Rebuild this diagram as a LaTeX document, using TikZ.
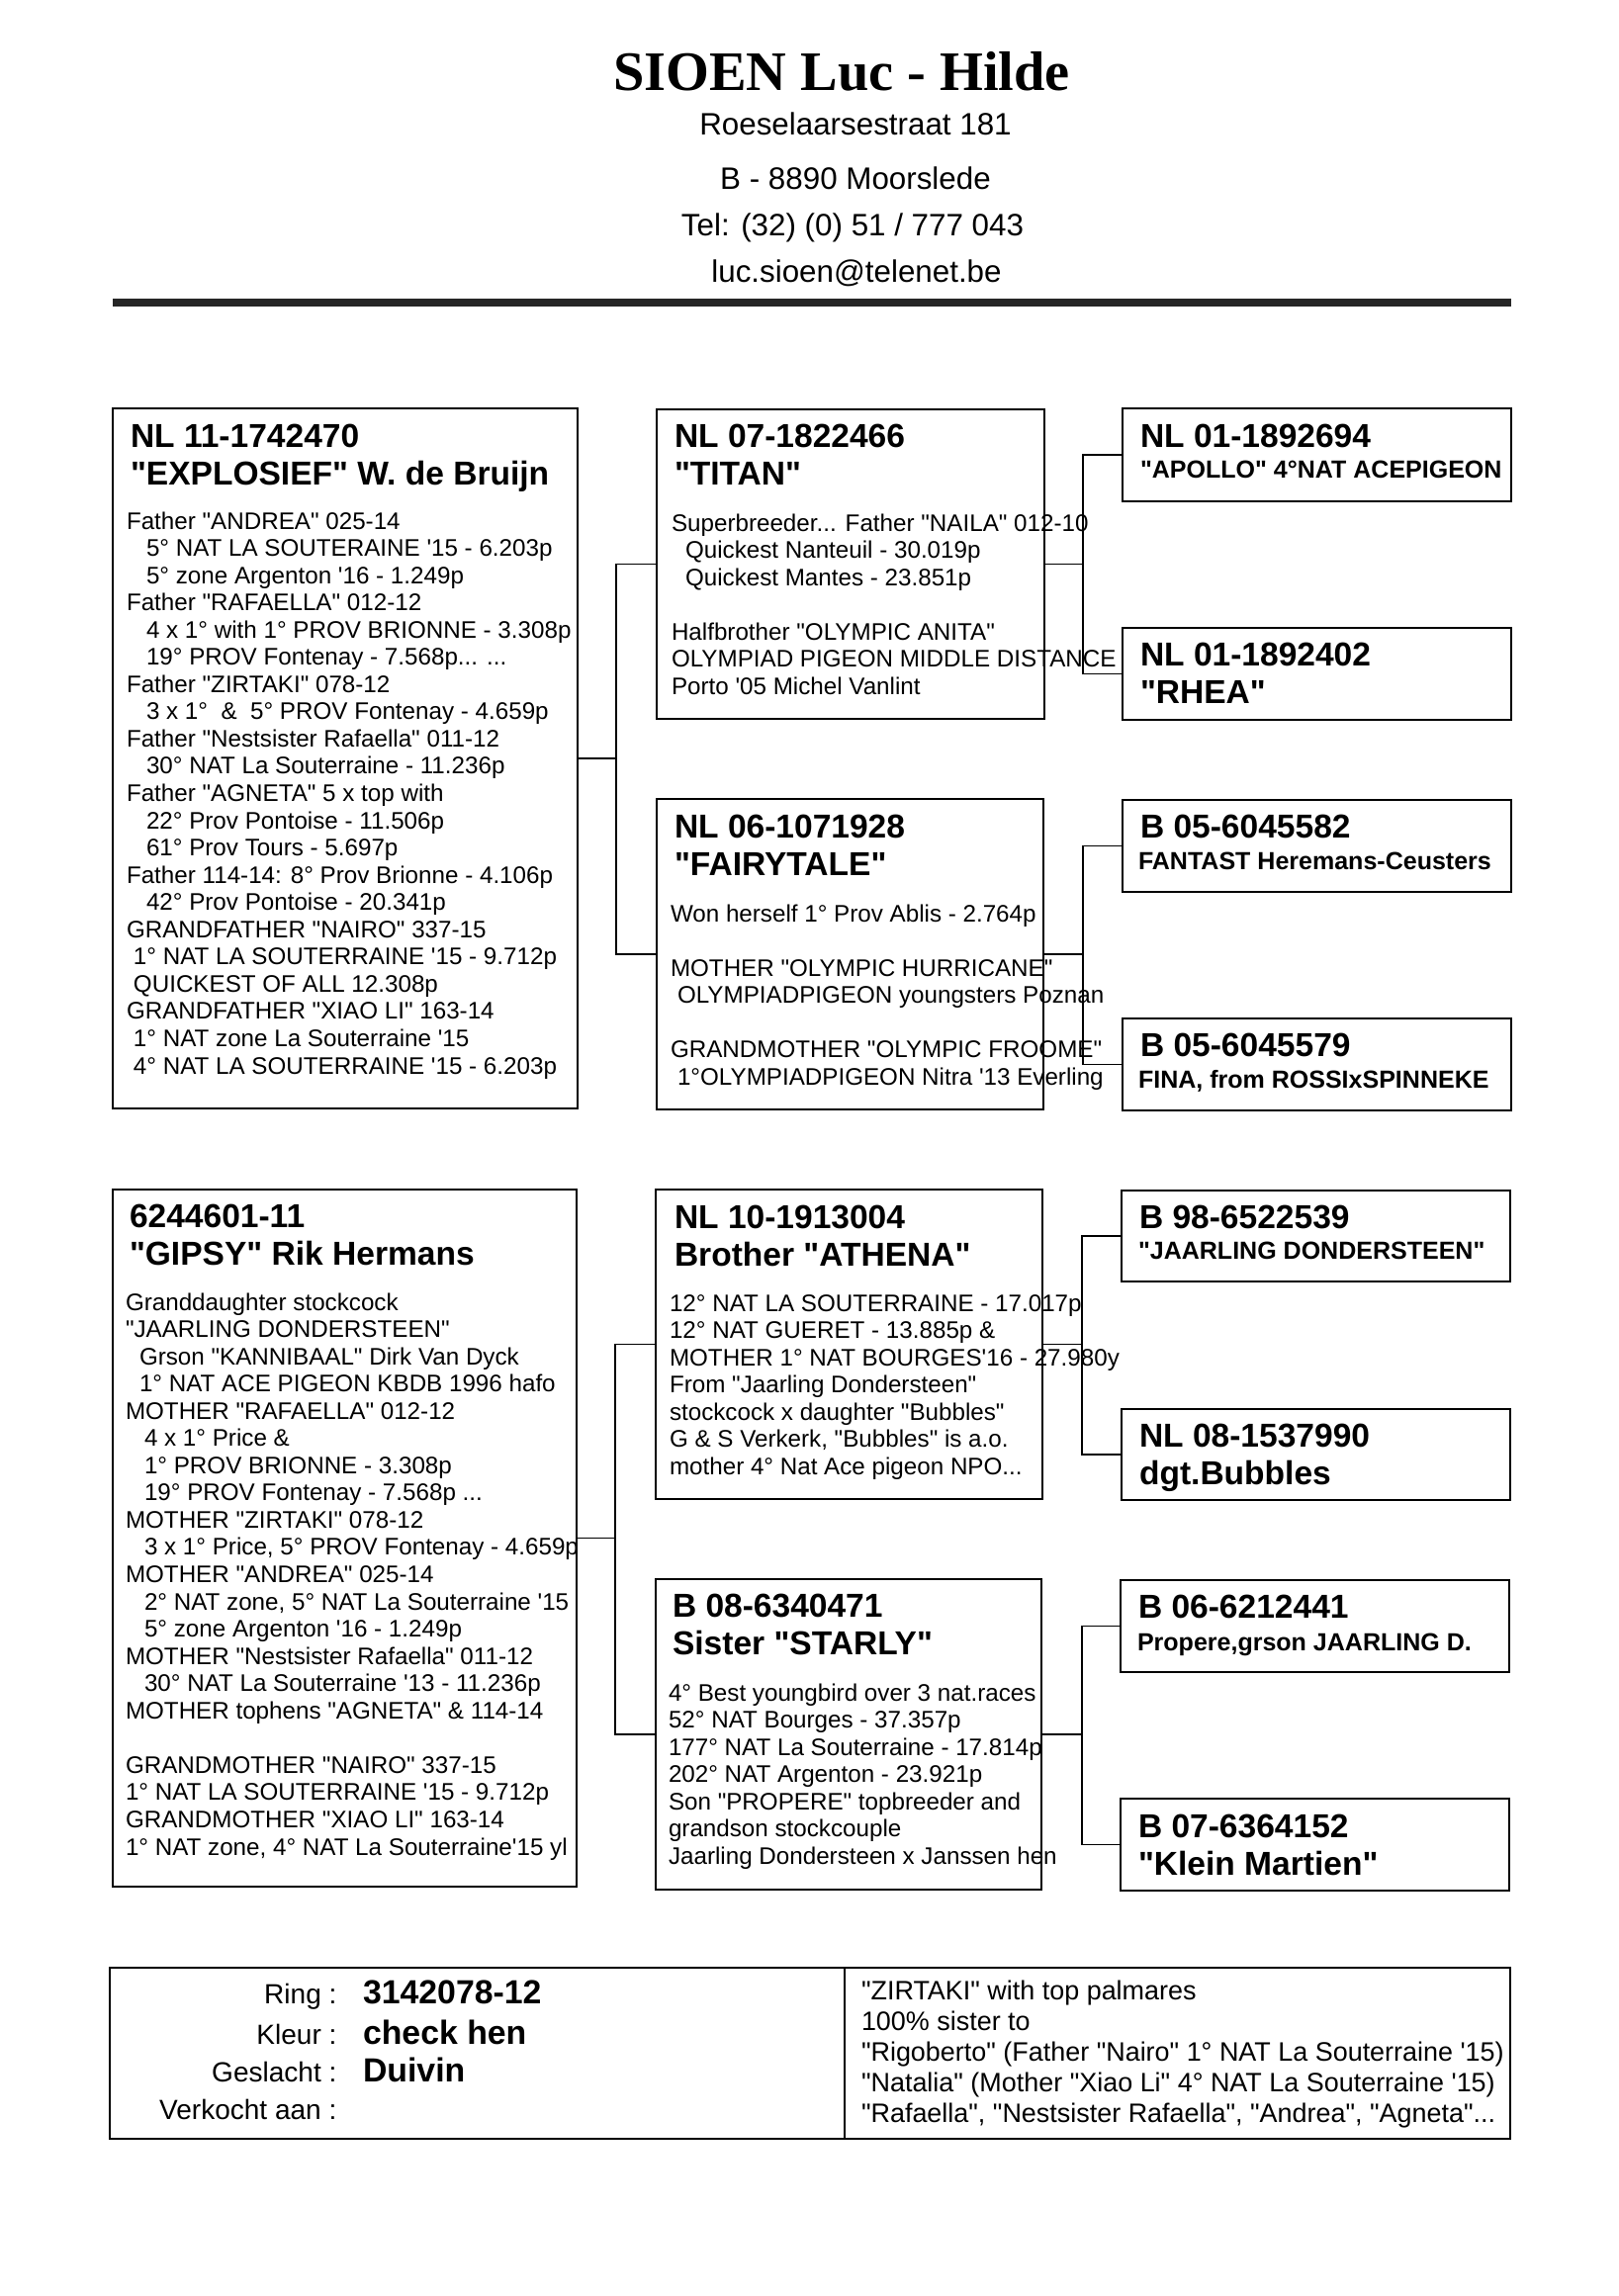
\documentclass[tikz,border=0pt]{standalone}
\usepackage{fontspec}
\setmainfont{Liberation Sans}[Ligatures=TeXOff]
\newfontfamily\serifb{Liberation Serif}[Ligatures=TeXOff]
\usetikzlibrary{fit}
\newdimen\pxu \pxu=0.3637pt
\newcommand\q{'}
\newcommand\ind[1]{\hspace*{#1\pxu}}
\newcommand\lns[1]{\parbox[t]{420pt}{\raggedright #1}}
\newcommand\fbody{\fontsize{8.8}{10.02}\selectfont}
\newcommand\fttl{\fontsize{12.2}{14}\selectfont\bfseries}
\newcommand\fsub{\fontsize{9.1}{10}\selectfont\bfseries}
\newcommand\fhead{\fontsize{11.4}{13}\selectfont}
\newcommand\ftitle{\serifb\fontsize{20.5}{24}\selectfont\bfseries}
\newcommand\flab{\fontsize{10.2}{12}\selectfont}
\newcommand\fval{\fontsize{12.3}{14}\selectfont\bfseries}
\newcommand\fnote{\fontsize{9.8}{11.35}\selectfont}
\begin{document}
\begin{tikzpicture}[x=0.3637pt, y=-0.3637pt,
  box/.style={draw=black, line width=0.65pt, inner sep=0pt, rectangle},
  txt/.style={anchor=base west, inner sep=0pt, outer sep=0pt},
  conn/.style={line width=0.55pt}]
\path[use as bounding box, fill=white] (0,0) rectangle (1636,2322);

% ---------- header ----------
\node[font=\ftitle, anchor=base, inner sep=0pt] (title) at (851,92) {SIOEN Luc - Hilde};
\node[font=\fhead, anchor=base, inner sep=0pt] (street) at (865,137) {Roeselaarsestraat 181};
\node[font=\fhead, anchor=base, inner sep=0pt] (city) at (865,192) {B - 8890 Moorslede};
\node[font=\fhead, anchor=base, inner sep=0pt] (tel) at (862,238) {Tel: (32) (0) 51 / 777 043};
\node[font=\fhead, anchor=base, inner sep=0pt] (mail) at (866,285) {luc.sioen@telenet.be};
\fill[black!85] (114,302) rectangle (1528,310);

% ---------- boxes ----------
\node[box, fit={(114,413) (584,1121)}] (A) {};
\node[box, fit={(664,414) (1056,727)}] (B) {};
\node[box, fit={(664,808) (1055,1122)}] (C) {};
\node[box, fit={(1135,413) (1528,507)}] (D) {};
\node[box, fit={(1135,635) (1528,728)}] (E) {};
\node[box, fit={(1135,809) (1528,902)}] (F) {};
\node[box, fit={(1135,1030) (1528,1123)}] (G) {};
\node[box, fit={(114,1203) (583,1908)}] (H) {};
\node[box, fit={(663,1203) (1054,1516)}] (I) {};
\node[box, fit={(663,1597) (1053,1911)}] (J) {};
\node[box, fit={(1134,1204) (1527,1296)}] (K) {};
\node[box, fit={(1134,1425) (1527,1517)}] (L) {};
\node[box, fit={(1133,1598) (1526,1691)}] (M) {};
\node[box, fit={(1133,1819) (1526,1912)}] (N) {};
\node[box, fit={(111,1990) (1527,2163)}] (T) {};
\coordinate (dv) at (854,0);
\draw[line width=0.65pt] (dv |- T.north) -- (dv |- T.south);

% ---------- connectors ----------
\coordinate (jA) at (623,0);
\coordinate (jH) at (622,0);
\coordinate (jR) at (1095,0);
\coordinate (jS) at (1094,0);
\draw[conn] (A.east) -- (A.east -| jA);
\draw[conn] (B.west) -- (B.west -| jA) -- (C.west -| jA) -- (C.west);
\draw[conn] (B.east) -- (B.east -| jR);
\draw[conn] (D.west) -- (D.west -| jR) -- (E.west -| jR) -- (E.west);
\draw[conn] (C.east) -- (C.east -| jR);
\draw[conn] (F.west) -- (F.west -| jR) -- (G.west -| jR) -- (G.west);
\draw[conn] (H.east) -- (H.east -| jH);
\draw[conn] (I.west) -- (I.west -| jH) -- (J.west -| jH) -- (J.west);
\draw[conn] (I.east) -- (I.east -| jS);
\draw[conn] (K.west) -- (K.west -| jS) -- (L.west -| jS) -- (L.west);
\draw[conn] (J.east) -- (J.east -| jS);
\draw[conn] (M.west) -- (M.west -| jS) -- (N.west -| jS) -- (N.west);

% ---------- box A ----------
\node[txt, font=\fttl] (At) at (132,452) {\lns{NL 11-1742470\\"EXPLOSIEF" W. de Bruijn}};
\node[txt, font=\fbody] (Ab) at (128,535) {\lns{%
Father "ANDREA" 025-14\\
\ind{20}5° NAT LA SOUTERAINE \q15 - 6.203p\\
\ind{20}5° zone Argenton \q16 - 1.249p\\
Father "RAFAELLA" 012-12\\
\ind{20}4 x 1° with 1° PROV BRIONNE - 3.308p\\
\ind{20}19° PROV Fontenay - 7.568p... ...\\
Father "ZIRTAKI" 078-12\\
\ind{20}3 x 1°\ \ \&\ \ 5° PROV Fontenay - 4.659p\\
Father "Nestsister Rafaella" 011-12\\
\ind{20}30° NAT La Souterraine - 11.236p\\
Father "AGNETA" 5 x top with\\
\ind{20}22° Prov Pontoise - 11.506p\\
\ind{20}61° Prov Tours - 5.697p\\
Father 114-14: 8° Prov Brionne - 4.106p\\
\ind{20}42° Prov Pontoise - 20.341p\\
GRANDFATHER "NAIRO" 337-15\\
\ind{7}1° NAT LA SOUTERRAINE \q15 - 9.712p\\
\ind{7}QUICKEST OF ALL 12.308p\\
GRANDFATHER "XIAO LI" 163-14\\
\ind{7}1° NAT zone La Souterraine \q15\\
\ind{7}4° NAT LA SOUTERRAINE \q15 - 6.203p}};

% ---------- box B ----------
\node[txt, font=\fttl] (Bt) at (682,452) {\lns{NL 07-1822466\\"TITAN"}};
\node[txt, font=\fbody] (Bb) at (679,537) {\lns{%
Superbreeder... Father "NAILA" 012-10\\
\ind{14}Quickest Nanteuil - 30.019p\\
\ind{14}Quickest Mantes - 23.851p\\[\baselineskip]
Halfbrother "OLYMPIC ANITA"\\
OLYMPIAD PIGEON MIDDLE DISTANCE\\
Porto \q05 Michel Vanlint}};

% ---------- box C ----------
\node[txt, font=\fttl] (Ct) at (682,847) {\lns{NL 06-1071928\\"FAIRYTALE"}};
\node[txt, font=\fbody] (Cb) at (678,932) {\lns{%
Won herself 1° Prov Ablis - 2.764p\\[\baselineskip]
MOTHER "OLYMPIC HURRICANE"\\
\ind{7}OLYMPIADPIGEON youngsters Poznan\\[\baselineskip]
GRANDMOTHER "OLYMPIC FROOME"\\
\ind{7}1°OLYMPIADPIGEON Nitra \q13 Everling}};

% ---------- boxes D E F G ----------
\node[txt, font=\fttl] (Dt) at (1153,452) {NL 01-1892694};
\node[txt, font=\fsub] (Ds) at (1153,483) {"APOLLO" 4°NAT ACEPIGEON};
\node[txt, font=\fttl] (Et) at (1153,673) {\lns{NL 01-1892402\\"RHEA"}};
\node[txt, font=\fttl] (Ft) at (1153,847) {B 05-6045582};
\node[txt, font=\fsub] (Fs) at (1151,879) {FANTAST Heremans-Ceusters};
\node[txt, font=\fttl] (Gt) at (1153,1068) {B 05-6045579};
\node[txt, font=\fsub] (Gs) at (1151,1100) {FINA, from ROSSIxSPINNEKE};

% ---------- box H ----------
\node[txt, font=\fttl] (Ht) at (131,1241) {\lns{6244601-11\\"GIPSY" Rik Hermans}};
\node[txt, font=\fbody] (Hb) at (127,1325) {\lns{%
Granddaughter stockcock\\
"JAARLING DONDERSTEEN"\\
\ind{14}Grson "KANNIBAAL" Dirk Van Dyck\\
\ind{14}1° NAT ACE PIGEON KBDB 1996 hafo\\
MOTHER "RAFAELLA" 012-12\\
\ind{19}4 x 1° Price \&\\
\ind{19}1° PROV BRIONNE - 3.308p\\
\ind{19}19° PROV Fontenay - 7.568p ...\\
MOTHER "ZIRTAKI" 078-12\\
\ind{19}3 x 1° Price, 5° PROV Fontenay - 4.659p\\
MOTHER "ANDREA" 025-14\\
\ind{19}2° NAT zone, 5° NAT La Souterraine \q15\\
\ind{19}5° zone Argenton \q16 - 1.249p\\
MOTHER "Nestsister Rafaella" 011-12\\
\ind{19}30° NAT La Souterraine \q13 - 11.236p\\
MOTHER tophens "AGNETA" \& 114-14\\[\baselineskip]
GRANDMOTHER "NAIRO" 337-15\\
1° NAT LA SOUTERRAINE \q15 - 9.712p\\
GRANDMOTHER "XIAO LI" 163-14\\
1° NAT zone, 4° NAT La Souterraine\q15 yl}};

% ---------- box I ----------
\node[txt, font=\fttl] (It) at (682,1242) {\lns{NL 10-1913004\\Brother "ATHENA"}};
\node[txt, font=\fbody] (Ib) at (677,1326) {\lns{%
12° NAT LA SOUTERRAINE - 17.017p\\
12° NAT GUERET - 13.885p \&\\
MOTHER 1° NAT BOURGES\q16 - 27.980y\\
From "Jaarling Dondersteen"\\
stockcock x daughter "Bubbles"\\
G \& S Verkerk, "Bubbles" is a.o.\\
mother 4° Nat Ace pigeon NPO...}};

% ---------- box J ----------
\node[txt, font=\fttl] (Jt) at (680,1635) {\lns{B 08-6340471\\Sister "STARLY"}};
\node[txt, font=\fbody] (Jb) at (676,1720) {\lns{%
4° Best youngbird over 3 nat.races\\
52° NAT Bourges - 37.357p\\
177° NAT La Souterraine - 17.814p\\
202° NAT Argenton - 23.921p\\
Son "PROPERE" topbreeder and\\
grandson stockcouple\\
Jaarling Dondersteen x Janssen hen}};

% ---------- boxes K L M N ----------
\node[txt, font=\fttl] (Kt) at (1152,1242) {B 98-6522539};
\node[txt, font=\fsub] (Ks) at (1151,1273) {"JAARLING DONDERSTEEN"};
\node[txt, font=\fttl] (Lt) at (1152,1463) {\lns{NL 08-1537990\\dgt.Bubbles}};
\node[txt, font=\fttl] (Mt) at (1151,1636) {B 06-6212441};
\node[txt, font=\fsub] (Ms) at (1150,1669) {Propere,grson JAARLING D.};
\node[txt, font=\fttl] (Nt) at (1151,1858) {\lns{B 07-6364152\\"Klein Martien"}};

% ---------- bottom table ----------
\node[font=\flab, anchor=base east, inner sep=0pt] (lring) at (341,2026) {Ring :};
\node[font=\flab, anchor=base east, inner sep=0pt] (lkleur) at (341,2067) {Kleur :};
\node[font=\flab, anchor=base east, inner sep=0pt] (lgesl) at (341,2105) {Geslacht :};
\node[font=\flab, anchor=base east, inner sep=0pt] (lverk) at (341,2143) {Verkocht aan :};
\node[txt, font=\fval] (vring) at (367,2026) {3142078-12};
\node[txt, font=\fval] (vkleur) at (367,2067) {check hen};
\node[txt, font=\fval] (vgesl) at (367,2105) {Duivin};
\node[txt, font=\fnote] (note) at (871,2022) {\lns{%
"ZIRTAKI" with top palmares\\
100\% sister to\\
"Rigoberto" (Father "Nairo" 1° NAT La Souterraine \q15)\\
"Natalia" (Mother "Xiao Li" 4° NAT La Souterraine \q15)\\
"Rafaella", "Nestsister Rafaella", "Andrea", "Agneta"...}};
\end{tikzpicture}
\end{document}
